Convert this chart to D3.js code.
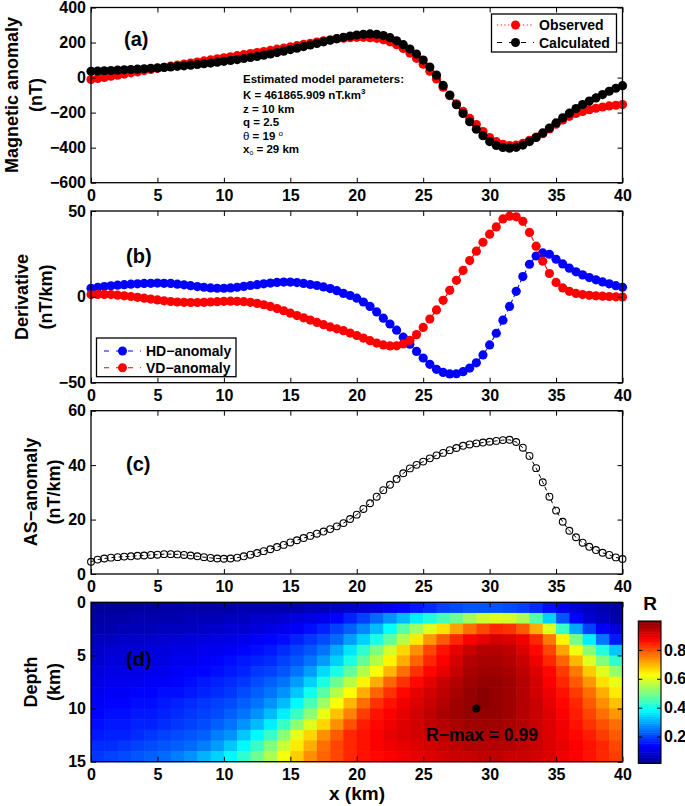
<!DOCTYPE html>
<html lang="en">
<head>
<meta charset="utf-8">
<title>Magnetic anomaly interpretation</title>
<script src="https://cdnjs.cloudflare.com/ajax/libs/d3/7.8.5/d3.min.js"></script>
<style>
body { margin: 0; background: #fff; }
svg text { font-family: "Liberation Sans", Arial, sans-serif; font-weight: bold; fill: #000; }
.axis text { font-size: 16px; }
.axis line { stroke: #000; stroke-width: 1; }
</style>
</head>
<body>
<script>
// profile stations (km), 0.5 km spacing
var xKm = d3.range(0, 40.001, 0.5);
var xTicks = [0, 5, 10, 15, 20, 25, 30, 35, 40];

// (a) magnetic anomaly, nT
var observed = [-11,-5,1,8,14,20,27,33,40,46,
  53,59,65,71,77,83,89,95,101,107,
  113,119,125,131,137,143,149,155,162,168,
  175,182,189,196,203,210,216,221,225,228,
  230,230,228,224,216,204,188,166,140,110,
  76,36,-8,-55,-103,-150,-193,-233,-268,-308,
  -342,-366,-381,-388,-386,-376,-358,-340,-320,-293,
  -266,-242,-221,-205,-193,-183,-175,-168,-162,-158,
  -154];
var calculated = [36,37,39,40,42,44,46,48,50,53,
  55,58,61,64,67,71,75,79,83,88,
  93,98,103,109,115,121,128,135,143,151,
  160,168,177,186,195,204,213,222,230,237,
  243,247,249,247,240,228,210,188,163,134,
  100,60,14,-45,-100,-155,-205,-252,-295,-332,
  -365,-387,-399,-403,-398,-385,-365,-342,-316,-288,
  -259,-230,-203,-177,-154,-134,-116,-97,-78,-61,
  -46];
var aTicks = [-600, -400, -200, 0, 200, 400];

// (b) derivatives, nT/km
var hdAnomaly = [5.0,5.5,6.0,6.4,6.8,7.1,7.4,7.6,7.8,7.9,
  8.0,7.9,7.8,7.4,7.0,6.5,6.0,5.6,5.2,5.0,
  5.0,5.2,5.6,6.1,6.6,7.1,7.6,8.0,8.4,8.6,
  8.6,8.3,7.8,7.2,6.6,5.8,4.8,3.6,2.0,0.8,
  -0.8,-3.0,-5.6,-8.8,-12.4,-15.8,-19.4,-23.5,-27.6,-31.8,
  -35.6,-39.3,-42.2,-44.0,-44.9,-44.8,-43.6,-41.5,-38.4,-33.8,
  -28.0,-21.2,-13.6,-5.6,3.2,11.8,19.0,23.8,25.6,24.8,
  21.9,19.2,16.7,14.6,12.8,11.2,9.9,8.7,7.6,6.5,
  5.6];
var vdAnomaly = [1.3,1.4,1.4,1.3,1.0,0.6,0.2,-0.3,-0.8,-1.3,
  -1.8,-2.3,-2.7,-3.0,-3.2,-3.3,-3.3,-3.2,-3.0,-2.8,
  -2.6,-2.5,-2.6,-2.8,-3.2,-3.8,-4.6,-5.6,-6.8,-8.1,
  -9.5,-10.9,-12.2,-13.5,-14.9,-16.2,-17.5,-18.6,-19.7,-21.1,
  -22.5,-24.0,-25.5,-26.9,-28.0,-28.6,-28.5,-27.4,-25.3,-22.0,
  -17.8,-12.9,-7.6,-2.0,3.8,9.6,15.4,21.1,26.6,31.8,
  36.5,40.7,45.4,47.0,46.6,44.0,37.5,29.5,20.8,13.6,
  8.4,5.2,3.2,2.0,1.3,0.9,0.6,0.4,0.2,0.0,
  -0.1];
var bTicks = [-50, 0, 50];

// (c) analytic signal, nT/km
var asAnomaly = [4.5,5.3,5.7,6.0,6.2,6.4,6.5,6.7,6.8,7.0,
  7.1,7.3,7.3,7.2,7.0,6.8,6.5,6.2,5.9,5.7,
  5.6,5.7,6.0,6.5,7.1,7.7,8.4,9.1,9.9,10.7,
  11.6,12.4,13.2,14.0,14.8,15.6,16.5,17.5,18.7,20.2,
  21.8,23.9,26.0,28.4,30.8,32.8,34.9,37.0,38.8,40.1,
  41.3,42.5,43.6,44.5,45.5,46.3,47.1,47.6,48.0,48.3,
  48.6,48.9,49.2,49.3,48.5,46.4,43.4,38.9,33.7,28.4,
  23.3,19.2,15.9,13.5,11.5,10.0,8.8,7.8,7.0,6.1,
  5.5];
var cTicks = [0, 20, 40, 60];

// (d) correlation R, 1 km cells: rows depth 0-1 ... 14-15 km, columns x 0-1 ... 39-40 km
var rGrid = [
  [0.03,0.03,0.03,0.03,0.03,0.04,0.04,0.04,0.04,0.04,0.04,0.05,0.05,0.05,0.05,0.05,0.06,0.06,0.07,0.08,0.09,0.10,0.12,0.14,0.16,0.18,0.20,0.21,0.22,0.22,0.22,0.21,0.20,0.18,0.15,0.12,0.09,0.07,0.05,0.04],
  [0.04,0.04,0.04,0.05,0.05,0.05,0.05,0.06,0.06,0.06,0.07,0.07,0.08,0.08,0.09,0.10,0.11,0.12,0.14,0.17,0.20,0.24,0.28,0.32,0.37,0.41,0.45,0.49,0.54,0.58,0.60,0.59,0.55,0.46,0.34,0.22,0.14,0.09,0.07,0.05],
  [0.05,0.05,0.06,0.06,0.06,0.07,0.07,0.07,0.08,0.08,0.09,0.09,0.10,0.11,0.12,0.13,0.15,0.17,0.20,0.23,0.27,0.32,0.39,0.47,0.54,0.60,0.66,0.72,0.77,0.81,0.84,0.83,0.79,0.71,0.60,0.44,0.30,0.20,0.13,0.10],
  [0.07,0.07,0.08,0.08,0.08,0.09,0.09,0.10,0.10,0.11,0.11,0.12,0.13,0.14,0.15,0.17,0.19,0.21,0.24,0.29,0.34,0.41,0.48,0.56,0.65,0.73,0.79,0.84,0.88,0.90,0.92,0.91,0.89,0.84,0.76,0.64,0.50,0.37,0.25,0.16],
  [0.08,0.09,0.09,0.09,0.10,0.10,0.11,0.11,0.12,0.12,0.13,0.14,0.15,0.16,0.18,0.20,0.22,0.25,0.30,0.36,0.43,0.51,0.59,0.67,0.74,0.81,0.86,0.90,0.93,0.95,0.95,0.94,0.91,0.87,0.81,0.72,0.62,0.52,0.42,0.33],
  [0.09,0.10,0.10,0.10,0.11,0.11,0.12,0.12,0.13,0.14,0.15,0.16,0.17,0.18,0.20,0.22,0.25,0.29,0.34,0.41,0.48,0.56,0.64,0.71,0.78,0.84,0.88,0.92,0.95,0.96,0.96,0.95,0.93,0.89,0.84,0.78,0.70,0.60,0.51,0.43],
  [0.10,0.11,0.11,0.11,0.12,0.12,0.13,0.14,0.14,0.15,0.16,0.17,0.19,0.20,0.22,0.25,0.29,0.35,0.41,0.48,0.56,0.63,0.70,0.77,0.83,0.87,0.90,0.93,0.96,0.97,0.97,0.96,0.94,0.91,0.87,0.82,0.76,0.68,0.60,0.53],
  [0.11,0.12,0.12,0.12,0.13,0.13,0.14,0.15,0.16,0.17,0.18,0.19,0.21,0.23,0.25,0.29,0.34,0.41,0.49,0.56,0.64,0.71,0.78,0.83,0.87,0.90,0.93,0.95,0.97,0.98,0.98,0.97,0.95,0.92,0.88,0.84,0.79,0.73,0.66,0.61],
  [0.12,0.13,0.13,0.14,0.14,0.15,0.15,0.16,0.17,0.18,0.19,0.21,0.23,0.25,0.28,0.33,0.40,0.47,0.56,0.63,0.71,0.78,0.83,0.87,0.90,0.92,0.94,0.96,0.98,0.99,0.98,0.97,0.95,0.92,0.89,0.86,0.82,0.77,0.71,0.65],
  [0.13,0.14,0.14,0.15,0.15,0.16,0.17,0.18,0.19,0.20,0.21,0.23,0.25,0.28,0.32,0.38,0.46,0.54,0.63,0.70,0.77,0.83,0.86,0.89,0.91,0.93,0.95,0.97,0.98,0.99,0.98,0.97,0.95,0.93,0.90,0.87,0.84,0.79,0.74,0.69],
  [0.14,0.15,0.15,0.16,0.16,0.17,0.18,0.19,0.20,0.21,0.23,0.25,0.28,0.32,0.37,0.44,0.52,0.61,0.69,0.75,0.82,0.86,0.88,0.90,0.92,0.94,0.96,0.97,0.98,0.98,0.98,0.97,0.95,0.93,0.91,0.88,0.85,0.81,0.77,0.73],
  [0.15,0.16,0.16,0.17,0.17,0.18,0.19,0.20,0.21,0.23,0.25,0.28,0.32,0.37,0.44,0.52,0.60,0.67,0.74,0.80,0.85,0.87,0.89,0.91,0.92,0.94,0.95,0.96,0.97,0.97,0.97,0.96,0.95,0.93,0.91,0.89,0.86,0.83,0.80,0.77],
  [0.16,0.17,0.17,0.18,0.19,0.20,0.21,0.22,0.23,0.26,0.28,0.33,0.38,0.44,0.52,0.61,0.67,0.74,0.79,0.84,0.86,0.88,0.90,0.91,0.92,0.93,0.94,0.95,0.96,0.96,0.96,0.95,0.94,0.93,0.91,0.89,0.87,0.85,0.82,0.79],
  [0.18,0.18,0.19,0.20,0.21,0.22,0.23,0.24,0.26,0.29,0.33,0.38,0.44,0.51,0.58,0.65,0.71,0.77,0.81,0.84,0.86,0.88,0.89,0.90,0.91,0.92,0.93,0.94,0.95,0.95,0.95,0.95,0.94,0.93,0.91,0.90,0.88,0.86,0.84,0.81],
  [0.19,0.20,0.21,0.22,0.23,0.24,0.26,0.28,0.31,0.34,0.38,0.43,0.49,0.55,0.62,0.68,0.74,0.78,0.81,0.84,0.86,0.87,0.88,0.89,0.90,0.91,0.92,0.93,0.93,0.94,0.94,0.93,0.93,0.92,0.91,0.89,0.88,0.86,0.84,0.82]
];
var dTicks = [0, 5, 10, 15];
var rMax = {x: 29, z: 10, label: "R\u2212max = 0.99"};
var cLim = [0.015, 1.0];
var cbTicks = [0.2, 0.4, 0.6, 0.8];
var jetStops = [0, 0.125, 0.375, 0.625, 0.875, 1];
var jetColors = ["#00008f", "#0000ff", "#00ffff", "#ffff00", "#ff0000", "#800000"];

var svg = d3.select("body").append("svg").attr("width", 685).attr("height", 806);

var left = 91, right = 622.5;
var x = d3.scaleLinear().domain([0, 40]).range([left, right]);

function drawAxes(y, top, bottom, yTicks) {
  var g = svg.append("g").attr("class", "axis");
  g.append("g").attr("transform", "translate(0," + bottom + ")")
    .call(d3.axisBottom(x).tickValues(xTicks).tickSizeInner(-5).tickSizeOuter(0).tickPadding(7));
  g.append("g").attr("transform", "translate(0," + top + ")")
    .call(d3.axisTop(x).tickValues(xTicks).tickSizeInner(-5).tickSizeOuter(0).tickFormat(""));
  g.append("g").attr("transform", "translate(" + left + ",0)")
    .call(d3.axisLeft(y).tickValues(yTicks).tickSizeInner(-5).tickSizeOuter(0).tickPadding(5));
  g.append("g").attr("transform", "translate(" + right + ",0)")
    .call(d3.axisRight(y).tickValues(yTicks).tickSizeInner(-5).tickSizeOuter(0).tickFormat(""));
  g.selectAll(".domain").remove();
  g.append("rect")
    .attr("x", left).attr("y", top)
    .attr("width", right - left).attr("height", bottom - top)
    .attr("fill", "none").attr("stroke", "#000").attr("stroke-width", 1.3);
}

function yLabel(lines, cy, baselines) {
  lines.forEach(function (t, i) {
    svg.append("text")
      .attr("transform", "translate(" + baselines[i] + "," + cy + ") rotate(-90)")
      .attr("text-anchor", "middle")
      .style("font-size", "18px")
      .text(t);
  });
}

function tag(t, px, py) {
  svg.append("text").attr("x", px).attr("y", py).style("font-size", "20px").text(t);
}

function dotSeries(data, y, col, dash, r) {
  var line = d3.line().x(function (d, i) { return x(xKm[i]); }).y(function (d) { return y(d); });
  svg.append("path").datum(data)
    .attr("d", line).attr("fill", "none")
    .attr("stroke", col).attr("stroke-width", 1.1).attr("stroke-dasharray", dash);
  svg.append("g").selectAll("circle").data(data).enter().append("circle")
    .attr("cx", function (d, i) { return x(xKm[i]); })
    .attr("cy", function (d) { return y(d); })
    .attr("r", r).attr("fill", col);
}

function legendRow(px, py, col, dash, label) {
  svg.append("line").attr("x1", px).attr("x2", px + 37).attr("y1", py).attr("y2", py)
    .attr("stroke", col).attr("stroke-width", 1.1).attr("stroke-dasharray", dash);
  svg.append("circle").attr("cx", px + 18.5).attr("cy", py).attr("r", 4.5).attr("fill", col);
  svg.append("text").attr("x", px + 42).attr("y", py + 5).style("font-size", "14px").text(label);
}

// ---------- (a) ----------
var yA = d3.scaleLinear().domain([-600, 400]).range([182.7, 7.5]);
dotSeries(observed, yA, "#ff0000", "1.2,2.5", 4.6);
dotSeries(calculated, yA, "#000000", "5,3", 4.6);
drawAxes(yA, 7.5, 182.7, aTicks);
yLabel(["Magnetic anomaly", "(nT)"], 95, [18, 42]);
tag("(a)", 124, 46);

svg.append("rect").attr("x", 491.5).attr("y", 14).attr("width", 125).attr("height", 38)
  .attr("fill", "#fff").attr("stroke", "#000").attr("stroke-width", 1.3);
legendRow(497, 25, "#ff0000", "1.2,2.5", "Observed");
legendRow(497, 42.5, "#000000", "5,7", "Calculated");

var params = svg.append("text").style("font-size", "11.5px");
params.append("tspan").attr("x", 243).attr("y", 83).text("Estimated model parameters:");
var kLine = params.append("tspan").attr("x", 243).attr("y", 99).text("K = 461865.909 nT.km");
params.append("tspan").attr("dy", -5).style("font-size", "8px").text("3");
params.append("tspan").attr("x", 243).attr("y", 112.5).text("z = 10 km");
params.append("tspan").attr("x", 243).attr("y", 126).text("q = 2.5");
params.append("tspan").attr("x", 243).attr("y", 140).style("font-weight", "normal").text("\u03b8");
params.append("tspan").text(" = 19 ");
params.append("tspan").attr("dy", -4).style("font-size", "8px").style("font-weight", "normal").text("o");
params.append("tspan").attr("x", 243).attr("y", 153).text("x");
params.append("tspan").attr("dy", 2).style("font-size", "7px").style("font-weight", "normal").text("o");
params.append("tspan").attr("dy", -2).text(" = 29 km");

// ---------- (b) ----------
var yB = d3.scaleLinear().domain([-50, 50]).range([382.7, 211]);
dotSeries(hdAnomaly, yB, "#0000ff", "5,3", 4.6);
dotSeries(vdAnomaly, yB, "#ff0000", "5,3", 4.6);
drawAxes(yB, 211, 382.7, bTicks);
yLabel(["Derivative", "(nT/km)"], 297, [28, 52]);
tag("(b)", 126, 263);

svg.append("rect").attr("x", 96.5).attr("y", 338).attr("width", 139.5).attr("height", 38.7)
  .attr("fill", "#fff").attr("stroke", "#000").attr("stroke-width", 1.3);
legendRow(104, 351, "#0000ff", "5,7", "HD\u2212anomaly");
legendRow(104, 367.7, "#ff0000", "5,7", "VD\u2212anomaly");

// ---------- (c) ----------
var yC = d3.scaleLinear().domain([0, 60]).range([574, 410.7]);
svg.append("path").datum(asAnomaly)
  .attr("d", d3.line().x(function (d, i) { return x(xKm[i]); }).y(function (d) { return yC(d); }))
  .attr("fill", "none").attr("stroke", "#000").attr("stroke-width", 1).attr("stroke-dasharray", "4,3");
svg.append("g").selectAll("circle").data(asAnomaly).enter().append("circle")
  .attr("cx", function (d, i) { return x(xKm[i]); })
  .attr("cy", function (d) { return yC(d); })
  .attr("r", 3.4).attr("fill", "none").attr("stroke", "#000").attr("stroke-width", 1.1);
drawAxes(yC, 410.7, 574, cTicks);
yLabel(["AS\u2212anomaly", "(nT/km)"], 492, [37, 60]);
tag("(c)", 126, 471);

// ---------- (d) ----------
var yD = d3.scaleLinear().domain([0, 15]).range([602.3, 761.7]);
var color = d3.scaleLinear()
  .domain(jetStops.map(function (t) { return cLim[0] + t * (cLim[1] - cLim[0]); }))
  .range(jetColors)
  .clamp(true);

var cells = [];
rGrid.forEach(function (row, zi) {
  row.forEach(function (v, xi) { cells.push({x: xi, z: zi, v: v}); });
});
svg.append("g").selectAll("rect").data(cells).enter().append("rect")
  .attr("x", function (d) { return x(d.x); })
  .attr("y", function (d) { return yD(d.z); })
  .attr("width", x(1) - x(0) + 0.6)
  .attr("height", yD(1) - yD(0) + 0.6)
  .attr("fill", function (d) { return color(d.v); });

svg.append("circle").attr("cx", x(rMax.x)).attr("cy", yD(rMax.z)).attr("r", 4).attr("fill", "#000");
svg.append("text").attr("x", 482).attr("y", 740.5).attr("text-anchor", "middle")
  .style("font-size", "17.5px").text(rMax.label);
drawAxes(yD, 602.3, 761.7, dTicks);
yLabel(["Depth", "(km)"], 682, [37, 60]);
tag("(d)", 126, 666);
svg.append("text").attr("x", 357).attr("y", 800).attr("text-anchor", "middle")
  .style("font-size", "19px").text("x (km)");

// colorbar
var cbTop = 621, cbBottom = 763.3, cbLeft = 638.3, cbRight = 661;
var yCb = d3.scaleLinear().domain(cLim).range([cbBottom, cbTop]);
var steps = d3.range(64);
var dv = (cLim[1] - cLim[0]) / 64;
svg.append("g").selectAll("rect").data(steps).enter().append("rect")
  .attr("x", cbLeft)
  .attr("y", function (i) { return yCb(cLim[0] + (i + 1) * dv); })
  .attr("width", cbRight - cbLeft)
  .attr("height", yCb(0) - yCb(dv) + 0.5)
  .attr("fill", function (i) { return color(cLim[0] + (i + 0.5) * dv); });
var cb = svg.append("g").attr("class", "axis");
cb.append("g").attr("transform", "translate(" + cbRight + ",0)")
  .call(d3.axisRight(yCb).tickValues(cbTicks).tickSizeInner(-4).tickSizeOuter(0).tickPadding(3)
    .tickFormat(d3.format(".1f")));
cb.append("g").attr("transform", "translate(" + cbLeft + ",0)")
  .call(d3.axisLeft(yCb).tickValues(cbTicks).tickSizeInner(-4).tickSizeOuter(0).tickFormat(""));
cb.selectAll(".domain").remove();
cb.append("rect").attr("x", cbLeft).attr("y", cbTop).attr("width", cbRight - cbLeft)
  .attr("height", cbBottom - cbTop).attr("fill", "none").attr("stroke", "#000").attr("stroke-width", 1.1);
svg.append("text").attr("x", 650).attr("y", 610).attr("text-anchor", "middle")
  .style("font-size", "19px").text("R");
</script>
</body>
</html>
